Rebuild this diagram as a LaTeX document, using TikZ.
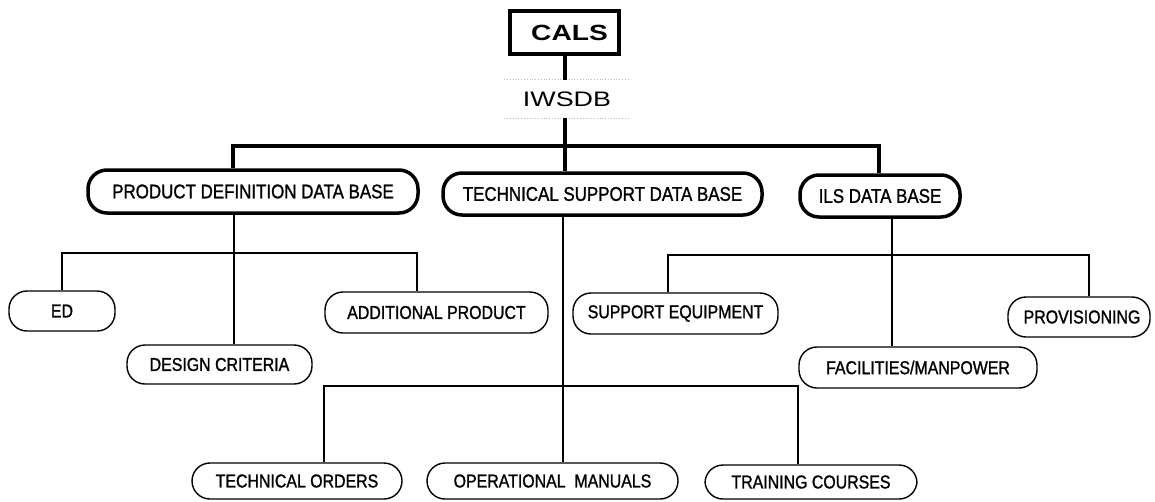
\documentclass[tikz,border=0pt]{standalone}
\usepackage{fontspec}
\setmainfont{Liberation Sans}
\newfontfamily\condfont[FakeStretch=0.855,FakeBold=1.2]{Liberation Sans}
\newfontfamily\widefont[FakeStretch=1.28]{Liberation Sans}
\begin{document}
\begin{tikzpicture}[x=1pt,y=-1pt,
  mainbox/.style={draw, line width=3.5pt, rounded corners=19pt, inner sep=0pt,
    font=\condfont\fontsize{19.8}{20}\selectfont},
  subbox/.style={draw, line width=1.4pt, rounded corners=18pt, inner sep=0pt,
    font=\condfont\fontsize{18.6}{19}\selectfont},
  thickline/.style={line width=4pt},
  thinline/.style={line width=1.4pt},
  faint/.style={draw=gray!55, dotted, line width=0.8pt}]
\useasboundingbox (0,0) rectangle (1155,501);

% top
\node[draw, line width=3.5pt, minimum width=109pt, minimum height=43pt, inner sep=0pt,
  font=\widefont\bfseries\fontsize{22}{22}\selectfont] (cals) at (564.5,32.5) {\hspace{10pt}CALS};
\node[minimum width=125pt, minimum height=38pt, inner sep=0pt,
  font=\widefont\fontsize{21}{21}\selectfont] (iwsdb) at (567,99) {IWSDB};
\draw[faint] (iwsdb.north west) -- (iwsdb.north east);
\draw[faint] (iwsdb.south west) -- (iwsdb.south east);

% data bases
\node[mainbox, minimum width=330pt, minimum height=43pt] (pddb) at (253,191.5) {PRODUCT DEFINITION DATA BASE};
\node[mainbox, minimum width=319pt, minimum height=42pt] (tsdb) at (602.5,194) {TECHNICAL SUPPORT DATA BASE};
\node[mainbox, minimum width=160pt, minimum height=42pt] (ils) at (880,196) {ILS DATA BASE};

% sub boxes
\node[subbox, minimum width=106pt, minimum height=40pt] (ed) at (62,311) {ED\hspace{8pt}};
\node[subbox, minimum width=185pt, minimum height=39pt] (dc) at (219.5,364.5) {DESIGN CRITERIA\hspace{14pt}};
\node[subbox, minimum width=223pt, minimum height=41pt] (ap) at (436.5,312.5) {ADDITIONAL PRODUCT\hspace{20pt}};
\node[subbox, minimum width=205pt, minimum height=41pt] (se) at (675.5,313.5) {SUPPORT EQUIPMENT};
\node[subbox, minimum width=238pt, minimum height=41pt] (fm) at (918,367.5) {FACILITIES/MANPOWER\hspace{14pt}};
\node[subbox, minimum width=142pt, minimum height=40pt] (prov) at (1079,317) {\hspace{6pt}PROVISIONING};
\node[subbox, minimum width=210pt, minimum height=36pt] (to) at (297,481) {TECHNICAL ORDERS\hspace{14pt}};
\node[subbox, minimum width=251pt, minimum height=36pt] (om) at (552.5,481) {OPERATIONAL\ \ MANUALS\hspace{6pt}};
\node[subbox, minimum width=212pt, minimum height=34pt] (tc) at (811,482) {TRAINING COURSES\hspace{6pt}};

% thick connectors
\coordinate (busL) at (233,146);
\coordinate (busR) at (879,146);
\draw[thickline] (cals.south) -- (cals.south |- iwsdb.north);
\draw[thickline] (cals.south |- iwsdb.south) -- (cals.south |- tsdb.north);
\draw[thickline] (pddb.north -| busL) -- (busL) -- (busR) -- (ils.north -| busR);

% PDDB branch
\coordinate (pdx) at (234,253);
\coordinate (apx) at (417,253);
\draw[thinline] (pddb.south -| pdx) -- (dc.north -| pdx);
\draw[thinline] (ed.north) |- (apx) -- (ap.north -| apx);

% ILS branch
\coordinate (ilx) at (892,255);
\coordinate (sex) at (668,255);
\coordinate (prx) at (1089,255);
\draw[thinline] (ils.south -| ilx) -- (fm.north -| ilx);
\draw[thinline] (se.north -| sex) -- (sex) -- (prx) -- (prov.north -| prx);

% TSDB branch
\coordinate (tsx) at (563,386);
\coordinate (tox) at (324,386);
\coordinate (tcx) at (798,386);
\draw[thinline] (tsdb.south -| tsx) -- (om.north -| tsx);
\draw[thinline] (to.north -| tox) -- (tox) -- (tcx) -- (tc.north -| tcx);
\end{tikzpicture}
\end{document}
